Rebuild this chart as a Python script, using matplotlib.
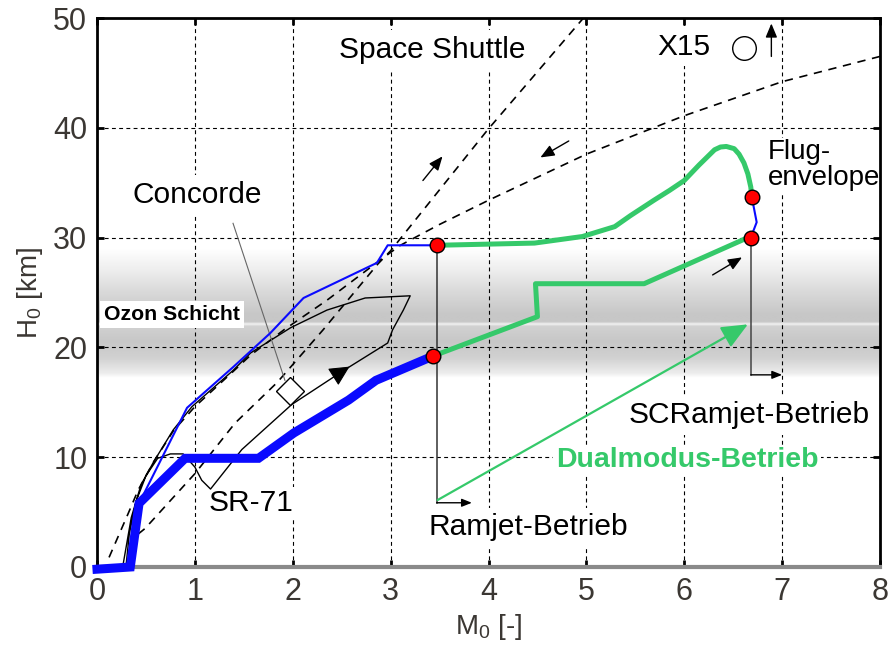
import numpy as np
import matplotlib
matplotlib.use('Agg')
import matplotlib.pyplot as plt
from matplotlib import font_manager

plt.rcParams['font.family'] = ['Liberation Sans', 'DejaVu Sans']
plt.rcParams['mathtext.fontset'] = 'custom'
plt.rcParams['mathtext.rm'] = 'Liberation Sans'
plt.rcParams['mathtext.it'] = 'Liberation Sans:italic'

# ---------------- data ----------------
thick_M = [0.0, 0.34, 0.43, 0.90, 1.65, 2.01, 2.57, 2.85, 3.43]
thick_H = [-0.2, 0.0, 5.8, 9.9, 9.9, 12.2, 15.2, 17.0, 19.2]

thin_M = [0.43, 0.92, 1.39, 1.77, 2.11, 2.86, 2.97, 3.47]
thin_H = [5.8, 14.5, 18.2, 21.3, 24.5, 27.7, 29.3, 29.3]

flug_blue_M = [6.69, 6.74, 6.68]
flug_blue_H = [33.7, 31.4, 30.0]

green_up_M = [3.47, 4.47, 4.96, 5.29, 5.45, 5.69, 5.85, 6.00, 6.15, 6.31, 6.37, 6.43, 6.51, 6.56, 6.61, 6.65, 6.68, 6.69]
green_up_H = [29.3, 29.5, 30.1, 31.0, 32.0, 33.4, 34.3, 35.2, 36.6, 38.0, 38.25, 38.3, 38.1, 37.6, 36.8, 35.8, 34.6, 33.7]

green_lo_M = [3.43, 4.50, 4.48, 5.59, 6.65]
green_lo_H = [19.2, 22.8, 25.8, 25.8, 30.0]

dots_M = [3.47, 3.43, 6.69, 6.68]
dots_H = [29.3, 19.2, 33.7, 30.0]

shuttle_up_M = [0.42, 0.49, 1.00, 1.41, 1.84, 2.31, 2.87, 3.00, 3.99, 4.97]
shuttle_up_H = [3.0, 3.5, 8.5, 13.1, 16.8, 21.6, 27.6, 28.8, 39.8, 50.0]

shuttle_down_M = [8.0, 7.0, 6.0, 5.0, 4.0, 3.5, 3.1, 2.87, 2.35, 1.91, 1.57, 1.39, 1.00, 0.78, 0.58, 0.42, 0.32, 0.10]
shuttle_down_H = [46.5, 44.2, 41.1, 37.6, 33.4, 31.2, 29.3, 27.8, 24.3, 21.6, 19.3, 17.8, 14.6, 12.4, 9.6, 7.0, 4.9, 0.4]

sr71_M = [0.27, 0.35, 0.45, 0.58, 0.78, 0.97, 1.39, 1.57, 1.98, 2.35, 2.74, 3.20, 3.13, 3.02, 2.97,
          2.52, 1.99, 1.48, 1.16, 1.07, 1.00, 0.88, 0.75, 0.62, 0.50, 0.40, 0.33, 0.30]
sr71_H = [0.4, 4.5, 7.5, 9.6, 12.5, 14.6, 17.9, 19.5, 21.8, 23.4, 24.5, 24.7, 23.4, 21.6, 20.4,
          17.9, 14.8, 10.7, 7.1, 7.9, 9.1, 10.3, 10.3, 9.9, 8.3, 6.0, 3.0, 0.4]

band_H = [17.2, 17.6, 19.0, 20.5, 21.9, 22.1, 22.3, 23.0, 25.0, 27.0, 29.0]
band_G = [1.00, 0.93, 0.82, 0.78, 0.82, 0.95, 0.78, 0.78, 0.85, 0.93, 1.00]

x_ticks = [0, 1, 2, 3, 4, 5, 6, 7, 8]
y_ticks = [0, 10, 20, 30, 40, 50]

BLUE = '#0a0aff'
GREEN = '#35c96a'
TICKC = '#3b3733'

names = {f.name for f in font_manager.fontManager.ttflist}
TICKFONT = 'Liberation Sans Narrow' if 'Liberation Sans Narrow' in names else 'Liberation Sans'

fig = plt.figure(figsize=(8.95, 6.52), dpi=100)
ax = fig.add_axes([97/895, 1-567/652, (880-97)/895, (567-18)/652])
ax.set_xlim(0, 8)
ax.set_ylim(0, 50)

# ozone band gradient
hh = np.linspace(17.2, 29.0, 300)
gg = np.interp(hh, band_H, band_G)
img = np.tile(gg[:, None], (1, 2))
ax.imshow(img, extent=[0, 8, 17.2, 29.0], origin='lower', aspect='auto',
          cmap='gray', vmin=0, vmax=1, zorder=0.1, interpolation='bilinear')

ax.set_axisbelow(True)
ax.grid(True, linestyle=(0, (3.5, 3)), color='black', linewidth=0.8)

# dashed shuttle curves
ax.plot(shuttle_up_M, shuttle_up_H, color='black', lw=1.2, ls=(0, (5, 4)), zorder=2)
ax.plot(shuttle_down_M, shuttle_down_H, color='black', lw=1.2, ls=(0, (5, 4)), zorder=2)

# SR-71 envelope
ax.plot(sr71_M, sr71_H, color='black', lw=1.0, zorder=2)
ax.annotate('', xy=(2.58, 18.25), xytext=(2.50, 17.8),
            arrowprops=dict(arrowstyle='-|>,head_length=0.9,head_width=0.45', color='black', lw=0.8,
                            mutation_scale=14, shrinkA=0, shrinkB=0), zorder=3)

# Concorde
ax.plot([1.39, 1.92], [31.3, 17.0], color='#666666', lw=0.8, zorder=2)
ax.plot([1.97], [16.0], marker='D', ms=14, mfc='white', mec='black', mew=1.0, zorder=3)

# vertical mode lines
ax.plot([3.47, 3.47], [29.3, 5.85], color='#333333', lw=1.1, zorder=2.5)
ax.annotate('', xy=(3.83, 5.85), xytext=(3.47, 5.85),
            arrowprops=dict(arrowstyle='-|>,head_length=0.5,head_width=0.2', color='black', lw=1.0,
                            mutation_scale=12, shrinkA=0, shrinkB=0), zorder=3)
ax.plot([6.68, 6.68], [30.0, 17.5], color='#444444', lw=1.1, zorder=2.5)
ax.annotate('', xy=(7.0, 17.5), xytext=(6.68, 17.5),
            arrowprops=dict(arrowstyle='-|>,head_length=0.5,head_width=0.2', color='black', lw=1.0,
                            mutation_scale=12, shrinkA=0, shrinkB=0), zorder=3)

# green dual-mode arrow
ax.annotate('', xy=(6.65, 22.1), xytext=(3.48, 6.1),
            arrowprops=dict(arrowstyle='-|>,head_length=0.8,head_width=0.35', color=GREEN, lw=1.6,
                            mutation_scale=20, shrinkA=0, shrinkB=0), zorder=3)

# flight path lines
ax.plot(thin_M, thin_H, color=BLUE, lw=1.5, zorder=3)
ax.plot(flug_blue_M, flug_blue_H, color=BLUE, lw=1.5, zorder=3)
ax.plot(thick_M, thick_H, color=BLUE, lw=6.5, zorder=3, solid_joinstyle='miter', clip_on=False)
ax.plot(green_up_M, green_up_H, color=GREEN, lw=3.6, zorder=3.2, solid_joinstyle='round')
ax.plot(green_lo_M, green_lo_H, color=GREEN, lw=3.6, zorder=3.2)
ax.plot(dots_M, dots_H, ls='none', marker='o', ms=10.5, mfc='#ff0000', mec='black', mew=1.0, zorder=5)

# small direction arrows
small = dict(arrowstyle='-|>,head_length=0.6,head_width=0.25', color='black', lw=1.0,
             mutation_scale=14, shrinkA=0, shrinkB=0)
ax.annotate('', xy=(3.53, 37.4), xytext=(3.33, 35.2), arrowprops=small, zorder=3)
ax.annotate('', xy=(4.53, 37.3), xytext=(4.82, 38.8), arrowprops=small, zorder=3)
ax.annotate('', xy=(6.59, 28.2), xytext=(6.29, 26.6), arrowprops=small, zorder=3)
ax.annotate('', xy=(6.89, 49.5), xytext=(6.89, 46.5), arrowprops=small, zorder=3)

# X15 marker
ax.plot([6.61], [47.3], marker='o', ms=17, mfc='white', mec='black', mew=1.0, zorder=3)

# texts
wb = dict(facecolor='white', edgecolor='none', pad=4)
fs = 21.5
ax.text(3.43, 47.1, 'Space Shuttle', fontsize=fs, ha='center', va='center', bbox=wb, zorder=0.8)
ax.text(6.00, 47.4, 'X15', fontsize=fs, ha='center', va='center', bbox=wb, zorder=0.8)
ax.text(1.02, 33.9, 'Concorde', fontsize=fs, ha='center', va='center', bbox=wb, zorder=0.8)
ax.text(6.85, 36.6, 'Flug-\nenvelope', fontsize=20, ha='left', va='center', linespacing=1.0,
        bbox=dict(facecolor='white', edgecolor='none', pad=1), zorder=0.8)
ax.text(6.66, 13.8, 'SCRamjet-Betrieb', fontsize=fs, ha='center', va='center', bbox=wb, zorder=0.8)
ax.text(6.03, 9.7, 'Dualmodus-Betrieb', fontsize=20.5, fontweight='bold', color=GREEN,
        ha='center', va='center', bbox=dict(facecolor='white', edgecolor='none', pad=2), zorder=0.8)
ax.text(4.41, 3.6, 'Ramjet-Betrieb', fontsize=fs, ha='center', va='center', bbox=wb, zorder=0.8)
ax.text(1.57, 5.8, 'SR-71', fontsize=fs, ha='center', va='center',
        bbox=dict(facecolor='white', edgecolor='none', pad=2), zorder=0.8)
ax.text(0.07, 23.0, 'Ozon Schicht', fontsize=15.3, fontweight='bold', ha='left', va='center',
        bbox=dict(facecolor='white', edgecolor='none', pad=3), zorder=0.8)

# axes styling
ax.set_xticks(x_ticks)
ax.set_yticks(y_ticks)
ax.tick_params(direction='in', length=5, width=2, color='black', top=True, right=True,
               labelsize=22, labelcolor=TICKC, pad=7)
for lab in ax.get_xticklabels() + ax.get_yticklabels():
    lab.set_family([TICKFONT, 'Liberation Sans'])
for s in ['left', 'top', 'right']:
    ax.spines[s].set_linewidth(2)
    ax.spines[s].set_color('black')
ax.spines['bottom'].set_linewidth(3)
ax.spines['bottom'].set_color('#8a8a8a')

ax.set_xlabel('M$_0$ [-]', fontsize=20, color=TICKC, labelpad=4)
ax.set_ylabel('H$_0$ [km]', fontsize=20, color=TICKC, labelpad=6)

fig.savefig('out.png', dpi=100)
